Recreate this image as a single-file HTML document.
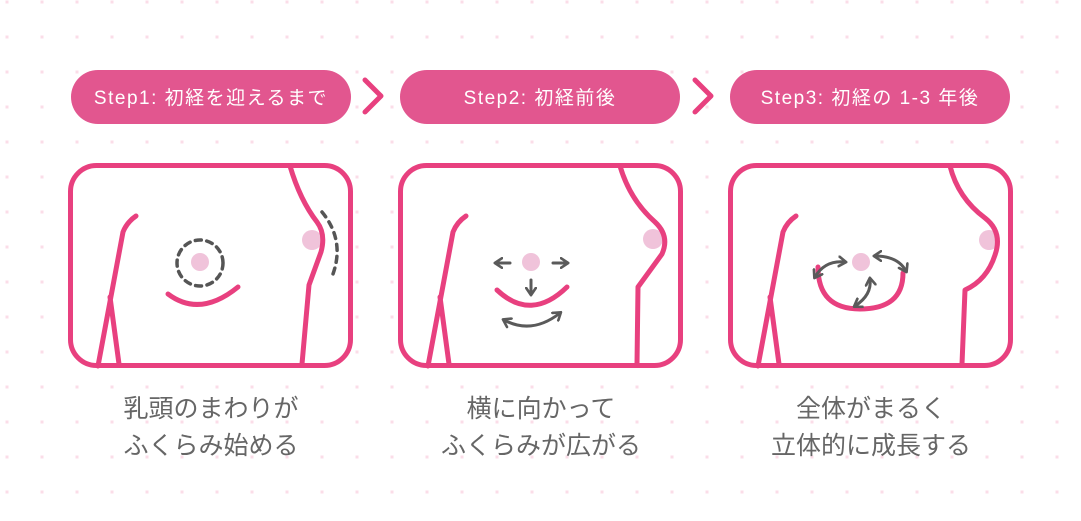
<!DOCTYPE html>
<html><head><meta charset="utf-8"><style>
html,body{margin:0;padding:0;background:#fff;}
svg{display:block;}
.t{font-family:"Liberation Sans","Noto Sans CJK JP",sans-serif;}
</style></head><body>
<svg width="1081" height="521" viewBox="0 0 1081 521" xmlns="http://www.w3.org/2000/svg">
<defs>
<pattern id="dots" x="5.5" y="0.5" width="35" height="35" patternUnits="userSpaceOnUse">
<rect x="0" y="0" width="3" height="3" fill="#fbdde8"/>
</pattern>
<marker id="ah" viewBox="0 0 10 10" refX="6" refY="5" markerWidth="4" markerHeight="4" orient="auto-start-reverse">
<path d="M1,1 L7,5 L1,9" fill="none" stroke="#5a5a5a" stroke-width="2.2" stroke-linecap="round" stroke-linejoin="round"/>
</marker>
<g id="frame">
<rect x="70.5" y="165.5" width="280" height="200" rx="26" fill="#fff" stroke="#e8407f" stroke-width="5"/>
<path d="M136,216 Q127,222 123,232 L98,366 M110,297 L119,364" fill="none" stroke="#e8407f" stroke-width="5" stroke-linecap="round" stroke-linejoin="round"/>
</g>
</defs>
<rect width="1081" height="521" fill="url(#dots)"/>

<!-- pills -->
<g class="t" font-size="19" fill="#fff" text-anchor="middle" letter-spacing="1.5">
<rect x="71" y="70" width="280" height="54" rx="27" fill="#e2568f"/>
<text x="211" y="104">Step1: 初経を迎えるまで</text>
<rect x="400" y="70" width="280" height="54" rx="27" fill="#e2568f"/>
<text x="540" y="104">Step2: 初経前後</text>
<rect x="730" y="70" width="280" height="54" rx="27" fill="#e2568f"/>
<text x="870" y="104">Step3: 初経の 1-3 年後</text>
</g>
<g fill="none" stroke="#e8407f" stroke-width="5" stroke-linecap="round" stroke-linejoin="round">
<path d="M365,80 L381,96 L365,112"/>
<path d="M695,80 L711,96 L695,112"/>
</g>

<!-- panel 1 -->
<use href="#frame"/>
<circle cx="312" cy="240" r="10" fill="#f0c3da"/>
<path d="M290,166 Q300,200 317,222 Q326,234 321,252 L309,285 L302,364" fill="none" stroke="#e8407f" stroke-width="5" stroke-linecap="round" stroke-linejoin="round"/>
<path d="M322,212 Q345,240 333,274" fill="none" stroke="#555" stroke-width="3.5" stroke-dasharray="6,6" stroke-linecap="round"/>
<circle cx="200" cy="262" r="9" fill="#f0c3da"/>
<circle cx="200" cy="263" r="23" fill="none" stroke="#555" stroke-width="3.5" stroke-dasharray="6,5.5" stroke-linecap="round"/>
<path d="M168,294 Q200,318 238,287" fill="none" stroke="#e8407f" stroke-width="5" stroke-linecap="round"/>

<!-- panel 2 -->
<use href="#frame" x="330"/>
<circle cx="653" cy="239" r="10" fill="#f0c3da"/>
<path d="M620,166 Q630,200 655,222 Q670,236 662,254 L638,287 L637,364" fill="none" stroke="#e8407f" stroke-width="5" stroke-linecap="round" stroke-linejoin="round"/>
<circle cx="531" cy="262" r="9" fill="#f0c3da"/>
<g fill="none" stroke="#5a5a5a" stroke-width="3" stroke-linecap="round">
<path d="M510,263 L496,263" marker-end="url(#ah)"/>
<path d="M553,263 L567,263" marker-end="url(#ah)"/>
<path d="M531,280 L531,294" marker-end="url(#ah)"/>
<path d="M504,320 Q532,335 560,313" marker-start="url(#ah)" marker-end="url(#ah)"/>
</g>
<path d="M497,290 Q531,322 567,287" fill="none" stroke="#e8407f" stroke-width="5" stroke-linecap="round"/>

<!-- panel 3 -->
<use href="#frame" x="660"/>
<circle cx="989" cy="240" r="10" fill="#f0c3da"/>
<path d="M950,166 Q958,198 985,218 Q1003,232 995,255 Q987,280 965,290 L962,364" fill="none" stroke="#e8407f" stroke-width="5" stroke-linecap="round" stroke-linejoin="round"/>
<circle cx="861" cy="262" r="9" fill="#f0c3da"/>
<path d="M818,267 Q818,309 860,309 Q903,309 903,273" fill="none" stroke="#e8407f" stroke-width="5" stroke-linecap="round"/>
<g fill="none" stroke="#5a5a5a" stroke-width="3" stroke-linecap="round">
<path d="M815,277 Q825,260 845,262" marker-start="url(#ah)" marker-end="url(#ah)"/>
<path d="M875,256 Q898,256 906,271" marker-start="url(#ah)" marker-end="url(#ah)"/>
<path d="M855,306 Q872,295 870,279" marker-start="url(#ah)" marker-end="url(#ah)"/>
</g>

<!-- captions -->
<g class="t" font-size="25" fill="#666" text-anchor="middle">
<text x="211" y="417">乳頭のまわりが</text>
<text x="211" y="454">ふくらみ始める</text>
<text x="541" y="417">横に向かって</text>
<text x="541" y="454">ふくらみが広がる</text>
<text x="871" y="417">全体がまるく</text>
<text x="871" y="454">立体的に成長する</text>
</g>
</svg>
</body></html>
